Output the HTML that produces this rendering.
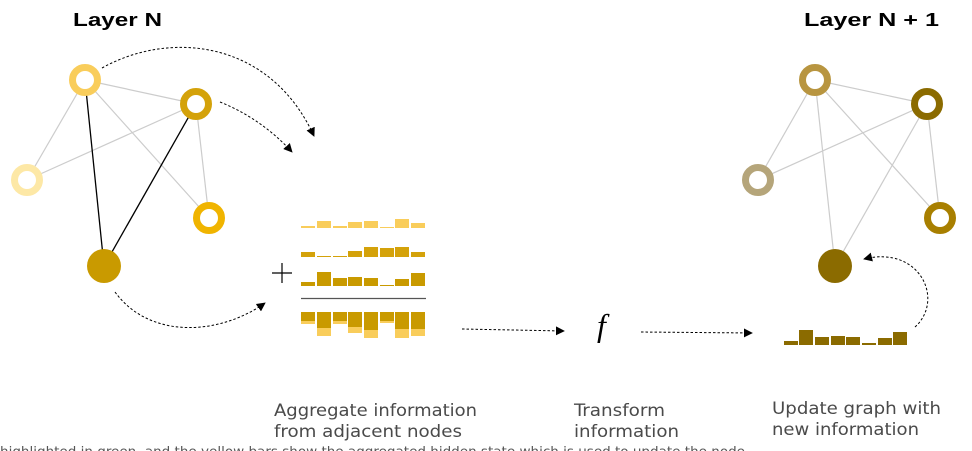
<!DOCTYPE html>
<html><head><meta charset="utf-8"><style>
html,body{margin:0;padding:0;background:#fff;width:972px;height:451px;overflow:hidden}
svg{display:block}
.lbl{font-family:"DejaVu Sans Condensed","DejaVu Sans","Liberation Sans",sans-serif;font-size:17px;fill:#4a4a4a}
.ttl{font-family:"Liberation Sans",sans-serif;font-size:18px;font-weight:bold;fill:#000}
</style></head><body>
<svg width="972" height="451" viewBox="0 0 972 451" xmlns="http://www.w3.org/2000/svg">
<defs>
<marker id="ah" viewBox="0 0 10 10" refX="9" refY="5" markerWidth="9" markerHeight="9" markerUnits="userSpaceOnUse" orient="auto"><path d="M0,0 L10,5 L0,10 z" fill="#000"/></marker>
</defs>
<text class="ttl" x="73" y="26" textLength="89" lengthAdjust="spacingAndGlyphs">Layer N</text>
<text class="ttl" x="804" y="26" textLength="135" lengthAdjust="spacingAndGlyphs">Layer N + 1</text>

<g stroke="#ccc" stroke-width="1.2">
<line x1="85" y1="80" x2="196" y2="104"/>
<line x1="85" y1="80" x2="27" y2="180"/>
<line x1="85" y1="80" x2="209" y2="218"/>
<line x1="196" y1="104" x2="27" y2="180"/>
<line x1="196" y1="104" x2="209" y2="218"/>
</g>
<g stroke="#000" stroke-width="1.3">
<line x1="85" y1="80" x2="104" y2="266"/>
<line x1="196" y1="104" x2="104" y2="266"/>
</g>
<g fill="#fff" stroke-width="7">
<circle cx="85" cy="80" r="12.5" stroke="#f9cd5b"/>
<circle cx="196" cy="104" r="12.5" stroke="#d4a20a"/>
<circle cx="27" cy="180" r="12.5" stroke="#fde8a6"/>
<circle cx="209" cy="218" r="12.5" stroke="#f0b400"/>
</g>
<circle cx="104" cy="266" r="17" fill="#c99a00"/>

<g fill="none" stroke="#000" stroke-width="1" stroke-dasharray="2.5,2">
<path d="M102,68 C170,30 270,40 314,136" marker-end="url(#ah)"/>
<path d="M220,102 C245,112 270,128 292,152" marker-end="url(#ah)"/>
<path d="M115,292 C150,340 220,335 265,303" marker-end="url(#ah)"/>
<path d="M462,329 L564,331" marker-end="url(#ah)"/>
<path d="M641,332 L752,333" marker-end="url(#ah)"/>
<path d="M915,327 C945,300 920,245 864,259" marker-end="url(#ah)"/>
</g>

<g stroke="#000" stroke-width="1.2"><line x1="272" y1="273" x2="292" y2="273"/><line x1="282" y1="263" x2="282" y2="283"/></g>

<g fill="#f9cd5b">
<rect x="301" y="226" width="14" height="2"/><rect x="317" y="221" width="14" height="7"/><rect x="333" y="226" width="14" height="2"/><rect x="348" y="222" width="14" height="6"/><rect x="364" y="221" width="14" height="7"/><rect x="380" y="227" width="14" height="1"/><rect x="395" y="219" width="14" height="9"/><rect x="411" y="223" width="14" height="5"/>
</g>
<g fill="#d4a20a">
<rect x="301" y="252" width="14" height="5"/><rect x="317" y="256" width="14" height="1"/><rect x="333" y="256" width="14" height="1"/><rect x="348" y="251" width="14" height="6"/><rect x="364" y="247" width="14" height="10"/><rect x="380" y="248" width="14" height="9"/><rect x="395" y="247" width="14" height="10"/><rect x="411" y="252" width="14" height="5"/>
</g>
<g fill="#c99a00">
<rect x="301" y="282" width="14" height="4"/><rect x="317" y="272" width="14" height="14"/><rect x="333" y="278" width="14" height="8"/><rect x="348" y="277" width="14" height="9"/><rect x="364" y="278" width="14" height="8"/><rect x="380" y="285" width="14" height="1"/><rect x="395" y="279" width="14" height="7"/><rect x="411" y="273" width="14" height="13"/>
</g>
<line x1="301" y1="298.5" x2="426" y2="298.5" stroke="#555" stroke-width="1.2"/>
<g fill="#f9cd5b">
<rect x="301" y="312" width="14" height="12"/><rect x="317" y="312" width="14" height="24"/><rect x="333" y="312" width="14" height="12"/><rect x="348" y="312" width="14" height="21"/><rect x="364" y="312" width="14" height="26"/><rect x="380" y="312" width="14" height="11"/><rect x="395" y="312" width="14" height="26"/><rect x="411" y="312" width="14" height="24"/>
</g>
<g fill="#c99a00">
<rect x="301" y="312" width="14" height="9"/><rect x="317" y="312" width="14" height="16"/><rect x="333" y="312" width="14" height="9"/><rect x="348" y="312" width="14" height="15"/><rect x="364" y="312" width="14" height="18"/><rect x="380" y="312" width="14" height="9"/><rect x="395" y="312" width="14" height="17"/><rect x="411" y="312" width="14" height="17"/>
</g>

<text x="597" y="336" font-family="'Liberation Serif',serif" font-style="italic" font-size="32">f</text>

<g stroke="#ccc" stroke-width="1.2">
<line x1="815" y1="80" x2="927" y2="104"/>
<line x1="815" y1="80" x2="758" y2="180"/>
<line x1="815" y1="80" x2="940" y2="218"/>
<line x1="815" y1="80" x2="835" y2="266"/>
<line x1="927" y1="104" x2="758" y2="180"/>
<line x1="927" y1="104" x2="940" y2="218"/>
<line x1="927" y1="104" x2="835" y2="266"/>
</g>
<g fill="#fff" stroke-width="7">
<circle cx="815" cy="80" r="12.5" stroke="#b89540"/>
<circle cx="927" cy="104" r="12.5" stroke="#8b6b00"/>
<circle cx="758" cy="180" r="12.5" stroke="#b5a57a"/>
<circle cx="940" cy="218" r="12.5" stroke="#a87f00"/>
</g>
<circle cx="835" cy="266" r="17" fill="#8b6b00"/>
<g fill="#8b6b00">
<rect x="784" y="341" width="14" height="4"/><rect x="799" y="330" width="14" height="15"/><rect x="815" y="337" width="14" height="8"/><rect x="831" y="336" width="14" height="9"/><rect x="846" y="337" width="14" height="8"/><rect x="862" y="343" width="14" height="2"/><rect x="878" y="338" width="14" height="7"/><rect x="893" y="332" width="14" height="13"/>
</g>

<text class="lbl" x="274" y="416" textLength="203" lengthAdjust="spacingAndGlyphs">Aggregate information</text>
<text class="lbl" x="274" y="437" textLength="188" lengthAdjust="spacingAndGlyphs">from adjacent nodes</text>
<text class="lbl" x="574" y="416" textLength="91" lengthAdjust="spacingAndGlyphs">Transform</text>
<text class="lbl" x="574" y="437" textLength="105" lengthAdjust="spacingAndGlyphs">information</text>
<text class="lbl" x="772" y="414" textLength="169" lengthAdjust="spacingAndGlyphs">Update graph with</text>
<text class="lbl" x="772" y="435" textLength="147" lengthAdjust="spacingAndGlyphs">new information</text>
<text x="0" y="456" font-family="'DejaVu Sans Condensed','DejaVu Sans',sans-serif" font-size="13" fill="#555" textLength="745" lengthAdjust="spacingAndGlyphs">highlighted in green, and the yellow bars show the aggregated hidden state which is used to update the node</text>
</svg>
</body></html>
